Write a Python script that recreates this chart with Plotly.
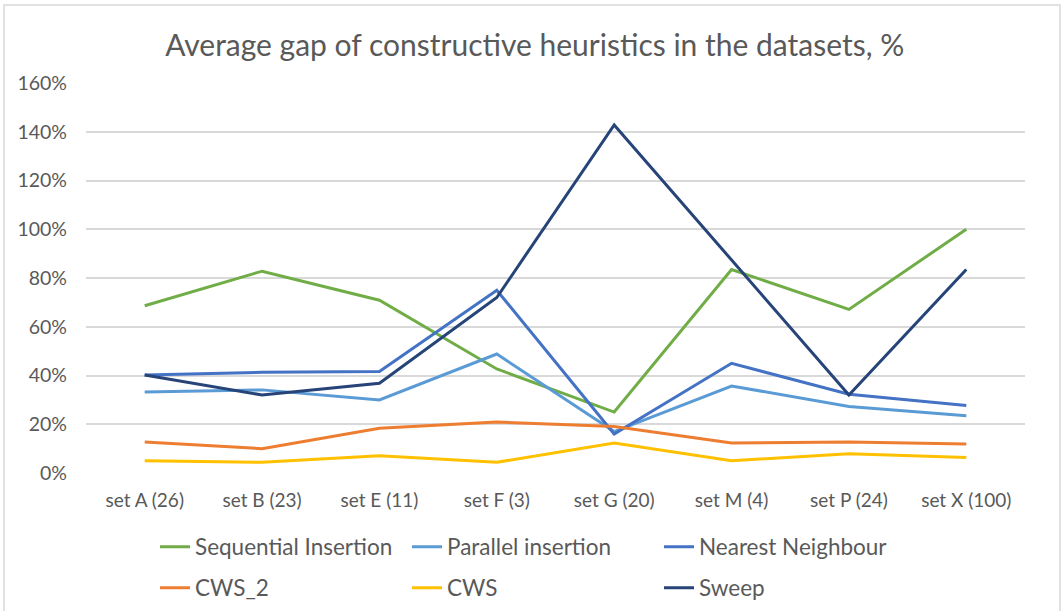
import plotly.graph_objects as go

# Datasets (number of instances in brackets)
categories = ["set A (26)", "set B (23)", "set E (11)", "set F (3)",
              "set G (20)", "set M (4)", "set P (24)", "set X (100)"]

# Average gap per heuristic, in %
sequential_insertion = [68.6, 82.8, 70.9, 42.7, 25.0, 83.5, 67.1, 100.0]
parallel_insertion = [33.2, 34.1, 30.0, 48.8, 17.0, 35.7, 27.3, 23.5]
nearest_neighbour = [40.2, 41.3, 41.6, 75.0, 16.0, 45.0, 32.3, 27.7]
cws_2 = [12.7, 10.0, 18.4, 20.9, 19.1, 12.3, 12.7, 11.9]
cws = [5.0, 4.4, 7.1, 4.4, 12.3, 5.0, 7.9, 6.4]
sweep = [40.2, 32.0, 36.8, 72.0, 142.8, 87.5, 32.0, 83.5]

# (name, values, colour, legend row)
series = [
    ("Sequential Insertion", sequential_insertion, "#70AD47", "legend"),
    ("Parallel insertion", parallel_insertion, "#5B9BD5", "legend"),
    ("Nearest Neighbour", nearest_neighbour, "#4472C4", "legend"),
    ("CWS_2", cws_2, "#ED7D31", "legend2"),
    ("CWS", cws, "#FFC000", "legend2"),
    ("Sweep", sweep, "#264478", "legend2"),
]

FONT = "Lato, 'Open Sans', sans-serif"
TEXT = "#595959"
W, H = 1063, 611

fig = go.Figure()
for name, vals, color, leg in series:
    fig.add_trace(go.Scatter(
        x=categories, y=vals, name=name, mode="lines",
        line=dict(color=color, width=3), legend=leg,
    ))

legend_common = dict(
    orientation="h", xref="container", x=155 / W, xanchor="left",
    yref="container", yanchor="middle",
    entrywidth=207, entrywidthmode="pixels", itemwidth=30,
    font=dict(size=22.5, color=TEXT), bgcolor="rgba(0,0,0,0)",
)

fig.update_layout(
    width=W, height=H,
    margin=dict(l=86, r=38, t=83, b=138),
    paper_bgcolor="white", plot_bgcolor="white",
    font=dict(family=FONT, color=TEXT, size=19),
    title=dict(
        text="Average gap of constructive heuristics in the datasets, %",
        x=0.503, xanchor="center", y=0.926, yanchor="middle",
        font=dict(family=FONT, size=30, color=TEXT),
    ),
    xaxis=dict(
        type="category", range=[-0.5, 7.5], showgrid=False, zeroline=False,
        showline=False, ticks="", tickfont=dict(size=19, color=TEXT),
        ticklabelstandoff=14,
    ),
    yaxis=dict(
        range=[0, 160], dtick=20, ticksuffix="%", showgrid=True,
        gridcolor="#D9D9D9", gridwidth=1.5, zeroline=False, showline=False,
        tickfont=dict(size=19.5, color=TEXT), ticklabelstandoff=18,
    ),
    legend=dict(y=1 - 547 / H, **legend_common),
    legend2=dict(y=1 - 588 / H, **legend_common),
    showlegend=True,
)

# Light frame around the whole chart
fig.add_shape(
    type="rect", xref="paper", yref="paper",
    x0=-0.0873, x1=1.0373, y0=-0.37, y1=1.2,
    line=dict(color="#D9D9D9", width=1.5), fillcolor="rgba(0,0,0,0)",
    layer="below",
)

fig.write_html("out.html")
